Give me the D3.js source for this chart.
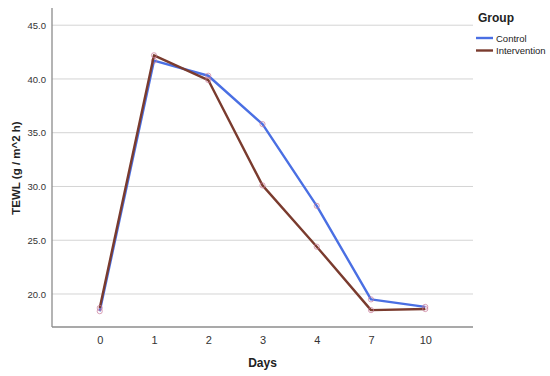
<!DOCTYPE html>
<html>
<head>
<meta charset="utf-8">
<script src="https://cdn.jsdelivr.net/npm/d3@7"></script>
<style>
  body { margin: 0; background: #fff; }
  text { font-family: Arial, "Liberation Sans", sans-serif; }
</style>
</head>
<body>
<div id="chart"></div>
<script>
// Data
const days = ["0", "1", "2", "3", "4", "7", "10"];
const control = [18.4, 41.7, 40.3, 35.8, 28.2, 19.5, 18.8];
const intervention = [18.7, 42.2, 39.9, 30.1, 24.4, 18.5, 18.6];
const yTicks = [20, 25, 30, 35, 40, 45];
const groups = ["Control", "Intervention"];
const colors = { Control: "#4a6fe3", Intervention: "#7a3b2e" };

const W = 550, H = 376;
const plot = { left: 52, right: 473, top: 8, bottom: 327 };

const svg = d3.select("#chart").append("svg")
    .attr("width", W)
    .attr("height", H);

const x = d3.scalePoint()
    .domain(days)
    .range([plot.left, plot.right])
    .padding(0.88);

const y = d3.scaleLinear()
    .domain([16.93, 46.6])
    .range([plot.bottom, plot.top]);

// gridlines
svg.append("g")
  .selectAll("line")
  .data(yTicks)
  .join("line")
    .attr("x1", plot.left)
    .attr("x2", plot.right)
    .attr("y1", d => y(d))
    .attr("y2", d => y(d))
    .attr("stroke", "#d4d4d4")
    .attr("stroke-width", 1);

// y axis
const yAxis = svg.append("g")
    .attr("transform", `translate(${plot.left},0)`)
    .call(d3.axisLeft(y).tickValues(yTicks).tickFormat(d3.format(".1f")).tickSize(0).tickPadding(6));
yAxis.select(".domain").attr("stroke", "#8c8c8c").attr("stroke-width", 1.3)
    .attr("d", `M0,${plot.top}V${plot.bottom}`);
yAxis.selectAll("text").attr("font-size", 9.5).attr("fill", "#333");

// x axis
const xAxis = svg.append("g")
    .attr("transform", `translate(0,${plot.bottom})`)
    .call(d3.axisBottom(x).tickSize(0).tickPadding(9));
xAxis.select(".domain").attr("stroke", "#8c8c8c").attr("stroke-width", 1.3)
    .attr("d", `M${plot.left},0H${plot.right}`);
xAxis.selectAll("text").attr("font-size", 11).attr("fill", "#333");

// axis titles
svg.append("text")
    .attr("x", x("3"))
    .attr("y", 367)
    .attr("text-anchor", "middle")
    .attr("font-size", 12)
    .attr("font-weight", "bold")
    .attr("fill", "#222")
    .text("Days");

svg.append("text")
    .attr("transform", "translate(20,168) rotate(-90)")
    .attr("text-anchor", "middle")
    .attr("font-size", 11.5)
    .attr("font-weight", "bold")
    .attr("fill", "#222")
    .text("TEWL (g / m^2 h)");

// lines
const line = d3.line()
    .x((d, i) => x(days[i]))
    .y(d => y(d));

const series = [
  { name: "Control", values: control },
  { name: "Intervention", values: intervention }
];

series.forEach(s => {
  svg.append("path")
      .datum(s.values)
      .attr("fill", "none")
      .attr("stroke", colors[s.name])
      .attr("stroke-width", 2.4)
      .attr("stroke-linejoin", "round")
      .attr("d", line);

  svg.append("g")
    .selectAll("circle")
    .data(s.values)
    .join("circle")
      .attr("cx", (d, i) => x(days[i]))
      .attr("cy", d => y(d))
      .attr("r", 2.6)
      .attr("fill", "none")
      .attr("stroke", "#c97a9a")
      .attr("stroke-opacity", 0.7)
      .attr("stroke-width", 1);
});

// legend
const lg = svg.append("g").attr("transform", "translate(476,0)");
lg.append("text")
    .attr("x", 2)
    .attr("y", 22)
    .attr("font-size", 12)
    .attr("font-weight", "bold")
    .attr("fill", "#222")
    .text("Group");

groups.forEach((g, i) => {
  const yy = 38 + i * 12.5;
  lg.append("line")
      .attr("x1", 0)
      .attr("x2", 17)
      .attr("y1", yy)
      .attr("y2", yy)
      .attr("stroke", colors[g])
      .attr("stroke-width", 2.4);
  lg.append("text")
      .attr("x", 20)
      .attr("y", yy + 3.5)
      .attr("font-size", 9.5)
      .attr("fill", "#222")
      .text(g);
});
</script>
</body>
</html>
